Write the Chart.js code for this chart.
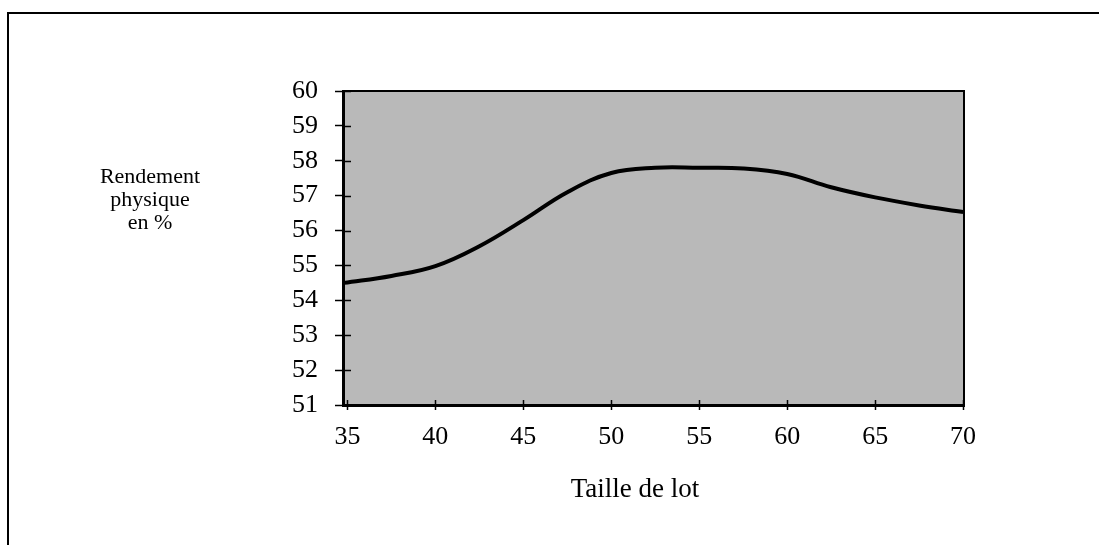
<!DOCTYPE html>
<html>
<head>
<meta charset="utf-8">
<script src="https://cdn.jsdelivr.net/npm/chart.js@4/dist/chart.umd.min.js"></script>
<style>
  html, body { margin: 0; padding: 0; background: #fff; }
  #wrap { width: 1099px; height: 545px; position: relative; }
</style>
</head>
<body>
<div id="wrap"><canvas id="rendChart"></canvas></div>
<script>
// taille de lot (axe x) et rendement physique en %
const tailleLot = [34.8, 37.5, 40, 42.5, 45, 47.5, 50, 52.5, 55, 57.5, 60, 62.5, 65, 67.5, 70];
const rendement = [54.5, 54.7, 54.98, 55.55, 56.3, 57.1, 57.65, 57.8, 57.8, 57.78, 57.62, 57.24, 56.95, 56.72, 56.53];
const xTicks = [35, 40, 45, 50, 55, 60, 65, 70];
const yTicks = [51, 52, 53, 54, 55, 56, 57, 58, 59, 60];
const yTitle = ['Rendement', 'physique', 'en %'];
const xTitle = 'Taille de lot';

const serif = '"Liberation Serif", "Times New Roman", serif';

// fond gris, cadre, petits traits intérieurs et titres
const decor = {
    id: 'decor',
    beforeDraw(chart) {
        const ctx = chart.ctx;
        const a = chart.chartArea;
        ctx.save();
        ctx.fillStyle = '#fff';
        ctx.fillRect(0, 0, chart.width, chart.height);
        ctx.fillStyle = '#b9b9b9';
        ctx.fillRect(a.left, a.top, a.right - a.left, a.bottom - a.top);
        ctx.restore();
    },
    afterDraw(chart) {
        const ctx = chart.ctx;
        const a = chart.chartArea;
        ctx.save();
        // cadre extérieur
        ctx.strokeStyle = '#000';
        ctx.lineWidth = 2;
        ctx.beginPath();
        ctx.moveTo(8, chart.height);
        ctx.lineTo(8, 13);
        ctx.lineTo(chart.width, 13);
        ctx.stroke();
        // haut et droite de la zone
        ctx.beginPath();
        ctx.moveTo(a.left, a.top);
        ctx.lineTo(a.right, a.top);
        ctx.lineTo(a.right, a.bottom);
        ctx.stroke();
        // traits de graduation vers l'intérieur
        ctx.lineWidth = 1.5;
        const ys = chart.scales.y;
        yTicks.forEach(v => {
            const py = Math.round(ys.getPixelForValue(v)) + 0.5;
            ctx.beginPath();
            ctx.moveTo(a.left, py);
            ctx.lineTo(a.left + 8, py);
            ctx.stroke();
        });
        const xs = chart.scales.x;
        xTicks.forEach(v => {
            const px = Math.round(xs.getPixelForValue(v)) + 0.5;
            ctx.beginPath();
            ctx.moveTo(px, a.bottom);
            ctx.lineTo(px, a.bottom - 5);
            ctx.stroke();
        });
        // titres
        ctx.fillStyle = '#000';
        ctx.textAlign = 'center';
        ctx.textBaseline = 'middle';
        ctx.font = '22px ' + serif;
        yTitle.forEach((t, i) => ctx.fillText(t, 150, 177 + i * 23));
        ctx.font = '27px ' + serif;
        ctx.fillText(xTitle, 635, 490);
        ctx.restore();
    }
};

new Chart(document.getElementById('rendChart'), {
    type: 'line',
    data: {
        datasets: [{
            data: tailleLot.map((x, i) => ({ x: x, y: rendement[i] })),
            borderColor: '#000',
            borderWidth: 4,
            pointRadius: 0,
            fill: false,
            tension: 0.4
        }]
    },
    options: {
        responsive: true,
        maintainAspectRatio: false,
        animation: false,
        layout: { padding: { top: 91, right: 135, left: 0, bottom: 0 } },
        plugins: {
            legend: { display: false },
            tooltip: { enabled: false }
        },
        scales: {
            x: {
                type: 'linear',
                min: 34.75,
                max: 70.05,
                afterBuildTicks: s => { s.ticks = xTicks.map(v => ({ value: v })); },
                afterFit: s => { s.height = 140; },
                grid: { drawOnChartArea: false, tickLength: 5, color: '#000', tickWidth: 1.5 },
                border: { display: true, color: '#000', width: 3 },
                ticks: {
                    color: '#000',
                    padding: 12,
                    maxRotation: 0,
                    font: { family: serif, size: 26 }
                }
            },
            y: {
                min: 51,
                max: 60,
                afterBuildTicks: s => { s.ticks = yTicks.map(v => ({ value: v })); },
                afterFit: s => { s.width = 343; },
                grid: { drawOnChartArea: false, tickLength: 8, color: '#000', tickWidth: 1.5 },
                border: { display: true, color: '#000', width: 3 },
                ticks: {
                    color: '#000',
                    padding: 17,
                    font: { family: serif, size: 26 }
                }
            }
        }
    },
    plugins: [decor]
});
</script>
</body>
</html>
